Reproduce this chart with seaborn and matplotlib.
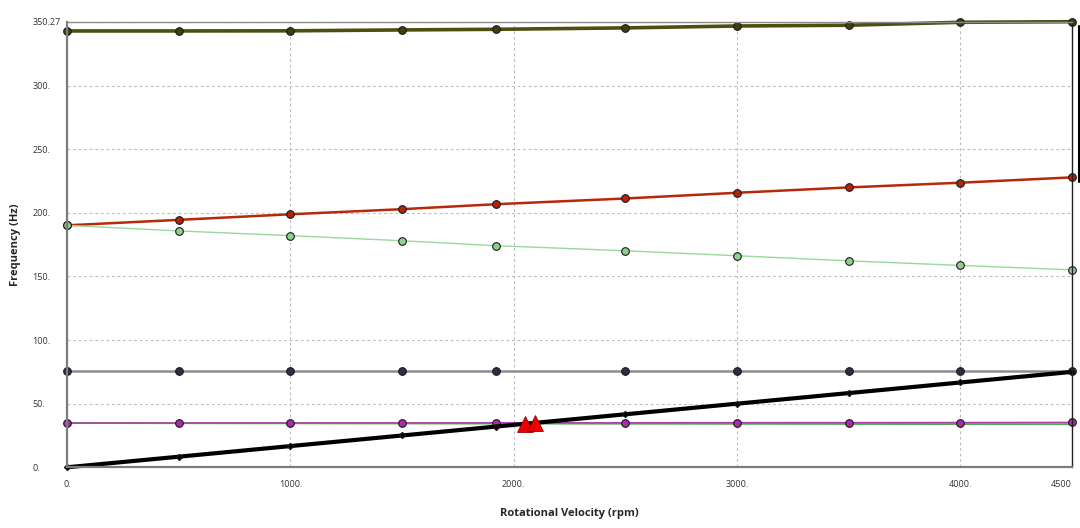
import matplotlib
matplotlib.use("Agg")
import matplotlib.pyplot as plt
import pandas as pd
import seaborn as sns
from matplotlib.lines import Line2D

sns.set_style("white")
plt.rcParams['font.family'] = ['Open Sans', 'DejaVu Sans']

# rotational velocity steps (rpm)
rpm = [0, 500, 1000, 1500, 1920, 2500, 3000, 3500, 4000, 4500]

# mode frequencies (Hz)
mode_olive = [343.0, 343.0, 343.1, 343.8, 344.3, 345.4, 346.9, 347.5, 349.8, 350.27]
mode_red = [190.2, 194.5, 198.9, 202.9, 206.8, 211.3, 215.8, 220.0, 223.7, 227.9]
mode_lightgreen = [190.2, 185.8, 182.1, 178.1, 174.2, 170.2, 166.3, 162.3, 158.7, 155.2]
mode_gray = [75.5, 75.5, 75.5, 75.5, 75.5, 75.5, 75.5, 75.5, 75.5, 75.5]
mode_green = [34.8, 34.7, 34.6, 34.5, 34.4, 34.3, 34.2, 34.1, 34.0, 33.9]
mode_purple = [34.8, 34.8, 34.85, 34.9, 34.95, 35.0, 35.1, 35.15, 35.2, 35.3]
# 1x excitation line
excitation = [0.0, 8.33, 16.67, 25.0, 32.0, 41.67, 50.0, 58.33, 66.67, 75.0]

# critical speeds (red triangles)
critical_rpm = [2052, 2097]
critical_freq = [34.2, 35.0]

x_ticks = [0, 1000, 2000, 3000, 4000, 4500]
x_labels = ["0.", "1000.", "2000.", "3000.", "4000.", "4500"]
y_ticks = [0, 50, 100, 150, 200, 250, 300, 350.27]
y_labels = ["0.", "50.", "100.", "150.", "200.", "250.", "300.", "350.27"]

# (values, line colour, line width, marker, marker face, marker size)
series = [
    (mode_olive, "#4e4e0e", 2.6, "o", "#3f3f12", 5.5),
    (mode_red, "#b8280a", 1.8, "o", "#b02410", 5.5),
    (mode_lightgreen, "#9cd89c", 1.0, "o", "#8fcf8f", 5.5),
    (mode_gray, "#8c8c94", 1.8, "o", "#283044", 5.5),
    (mode_green, "#4fae4f", 1.4, None, None, 0),
    (mode_purple, "#b23cb4", 1.1, "o", "#a82ca8", 5.5),
    (excitation, "#000000", 3.0, "D", "#000000", 3.2),
]

fig = plt.figure(figsize=(10.8, 5.28), dpi=100)
ax = fig.add_axes([67 / 1080, 1 - 467.3 / 528, (1072 - 67) / 1080, (467.3 - 21.7) / 528])

for vals, color, lw, mk, mface, ms in series:
    df = pd.DataFrame({"rpm": rpm, "freq": vals})
    sns.lineplot(data=df, x="rpm", y="freq", ax=ax, color=color, linewidth=lw,
                 marker=mk, markerfacecolor=mface, markeredgecolor="#1a1a1a",
                 markeredgewidth=0.8, markersize=ms, clip_on=False)

crit = pd.DataFrame({"rpm": critical_rpm, "freq": critical_freq})
sns.scatterplot(data=crit, x="rpm", y="freq", ax=ax, marker="^", s=130,
                color="#ee0000", edgecolor="#990000", linewidth=0.6, zorder=5)

ax.set_xlim(0, 4500)
ax.set_ylim(0, 350.27)
ax.set_xticks(x_ticks)
ax.set_xticklabels(x_labels)
ax.set_yticks(y_ticks)
ax.set_yticklabels(y_labels)
for lab in ax.get_yticklabels():
    lab.set_ha("left")
# keep the last x label inside the figure
ax.get_xticklabels()[-1].set_ha("right")

ax.grid(True, linestyle=(0, (2.5, 2.5)), color="#bdbdbd", linewidth=0.8)
ax.tick_params(axis="both", which="both", direction="out", length=5, width=0.8,
               color="#bdbdbd", labelsize=6.5, labelcolor="#333333")
ax.tick_params(axis="y", pad=20)
ax.tick_params(axis="x", pad=4)

for side in ["left", "bottom"]:
    ax.spines[side].set_color("#7c7c7c")
    ax.spines[side].set_linewidth(1.6)
ax.spines["top"].set_color("#8c8c8c")
ax.spines["top"].set_linewidth(1.0)
ax.spines["right"].set_color("#202020")
ax.spines["right"].set_linewidth(1.0)

ax.set_xlabel("Rotational Velocity (rpm)", fontsize=8, fontweight="bold", labelpad=14)
ax.set_ylabel("Frequency (Hz)", fontsize=8, fontweight="bold", labelpad=8)

# clipped legend frame at the far right
fig.add_artist(Line2D([1079 / 1080, 1079 / 1080], [1 - 26 / 528, 1 - 182 / 528],
                      transform=fig.transFigure, color="#000000", linewidth=1.5))

fig.savefig("out.png", dpi=100)
